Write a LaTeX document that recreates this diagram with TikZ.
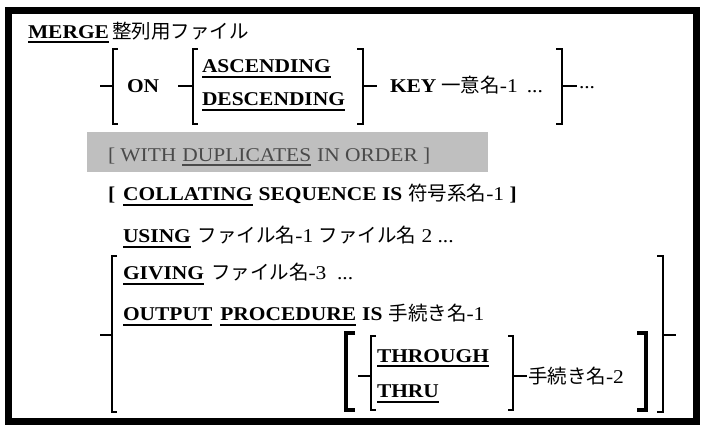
\documentclass[tikz,border=0pt]{standalone}
\usepackage{fontspec}
\setmainfont{Liberation Serif}[FakeStretch=1.1]
\newfontfamily\jpfont{Noto Sans CJK JP}
\newcommand\J[1]{{\jpfont\fontsize{19.5}{21}\selectfont #1}}
\definecolor{grytxt}{HTML}{4A4A4A}
\definecolor{grybox}{HTML}{BFBFBF}
\newcommand\LBr[5][]{\draw[brk,#1] (#2+#5,#3) -- (#2,#3) -- (#2,#4) -- (#2+#5,#4);}
\newcommand\UL[3][black]{\draw[ul,#1] ([yshift=-#3pt]#2.base west) -- ([yshift=-#3pt]#2.base east);}
\begin{document}
\begin{tikzpicture}[x=1pt,y=-1pt,
  txt/.style={inner sep=0pt,outer sep=0pt,anchor=base west,font=\fontsize{19.5}{22}\selectfont},
  kw/.style={txt,font=\fontsize{19.5}{22}\selectfont\bfseries},
  gtxt/.style={txt,text=grytxt},
  brk/.style={line width=1.7pt,line join=miter},
  thickbrk/.style={line width=3.8pt},
  ul/.style={line width=1.3pt}]
\useasboundingbox (0,0) rectangle (710,431);
\fill[white] (0,0) rectangle (710,431);
% frame
\draw[line width=7pt] (8.5,10) rectangle (696,421.5);
% row 1
\node[kw] (merge) at (28,38) {MERGE}; \UL{merge}{4}
\node[txt] (file0) at (112,38) {\J{整列用ファイル}};
% row 2
\draw[brk] (100,86) -- (113,86); \LBr{113}{49}{124}{5}
\node[kw] (on) at (127,92) {ON};
\draw[brk] (178,86) -- (193,86); \LBr{193}{49}{124}{5}
\node[kw] (asc) at (202,72) {ASCENDING}; \UL{asc}{5}
\node[kw] (desc) at (202,105) {DESCENDING}; \UL{desc}{5}
\LBr{363}{49}{124}{-6} \draw[brk] (363,86) -- (377,86);
\node[kw] (key) at (390,92) {KEY};
\node[txt] (keyname) at ([xshift=5pt]key.base east) {\J{一意名}-1};
\node[txt] (dots1) at ([xshift=9pt]keyname.base east) {...};
\LBr{562}{49}{124}{-6} \draw[brk] (562,86) -- (577,86);
\node[txt] (dots2) at (579,88) {...};
% row 3
\fill[grybox] (87,132) rectangle (488,172);
\node[gtxt] (with) at (108,161) {[ WITH};
\node[gtxt] (dup) at ([xshift=6pt]with.base east) {DUPLICATES}; \UL[grytxt]{dup}{4}
\node[gtxt] (inorder) at ([xshift=6pt]dup.base east) {IN ORDER ]};
% row 4
\node[kw] (lb4) at (108,200) {[};
\node[kw] (coll) at ([xshift=8pt]lb4.base east) {COLLATING}; \UL{coll}{5}
\node[kw] (seq) at ([xshift=6pt]coll.base east) {SEQUENCE IS};
\node[txt] (alph) at ([xshift=6pt]seq.base east) {\J{符号系名}-1 \textbf{]}};
% row 5
\node[kw] (using) at (123,242) {USING}; \UL{using}{5}
\node[txt] (usingf) at ([xshift=7pt]using.base east) {\J{ファイル名}-1 \J{ファイル名} 2 ...};
% row 6
\draw[brk] (100,335) -- (112,335); \LBr{112}{256}{412}{5}
\node[kw] (giving) at (123,279) {GIVING}; \UL{giving}{5}
\node[txt] (givingf) at ([xshift=7pt]giving.base east) {\J{ファイル名}-3 \ ...};
\node[kw] (output) at (123,320) {OUTPUT}; \UL{output}{5}
\node[kw] (proc) at ([xshift=8pt]output.base east) {PROCEDURE}; \UL{proc}{5}
\node[kw] (is) at ([xshift=6pt]proc.base east) {IS};
\node[txt] (proc1) at ([xshift=6pt]is.base east) {\J{手続き名}-1};
\LBr[thickbrk]{346}{333}{410}{9}
\draw[brk] (358,376) -- (371,376); \LBr{371}{336}{410}{5}
\node[kw] (thr) at (377,362) {THROUGH}; \UL{thr}{4}
\node[kw] (thru) at (377,397) {THRU}; \UL{thru}{5}
\LBr{513}{336}{410}{-5} \draw[brk] (513,376) -- (527,376);
\node[txt] (proc2) at (528,383) {\J{手続き名}-2};
\LBr[thickbrk]{646}{333}{410}{-9}
\LBr{663}{256}{412}{-6} \draw[brk] (663,335) -- (676,335);
\end{tikzpicture}
\end{document}
